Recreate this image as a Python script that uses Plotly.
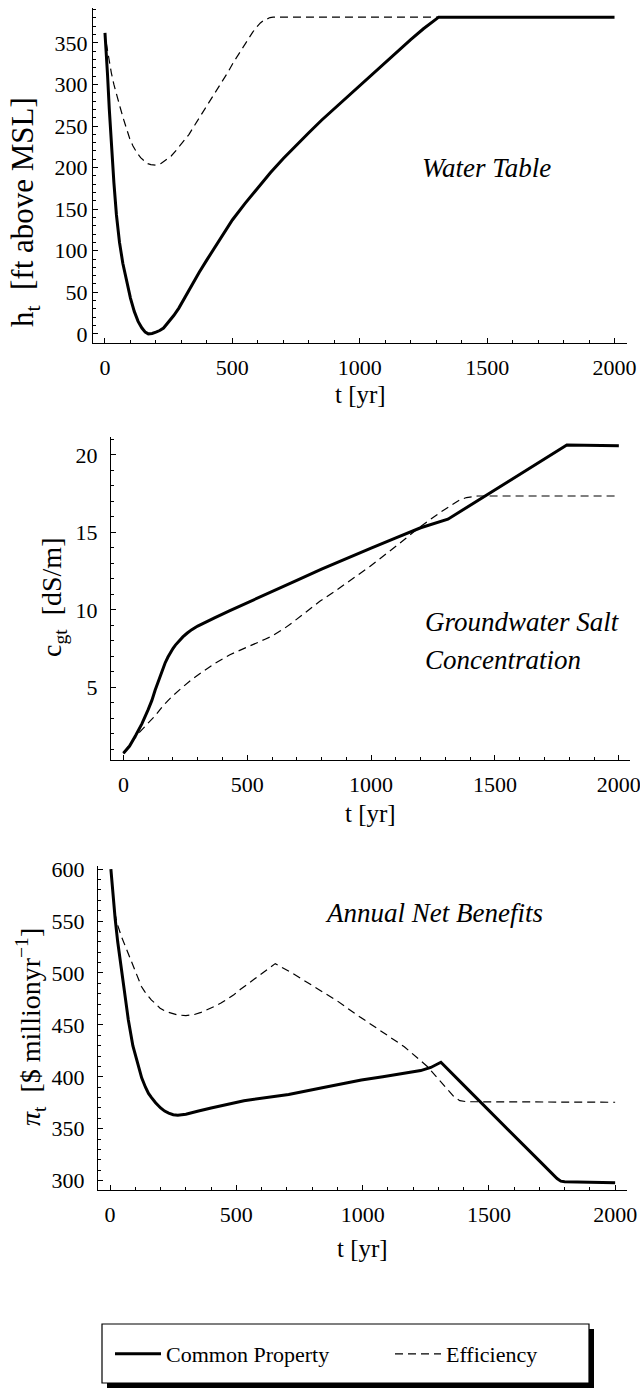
import plotly.graph_objects as go

W, H = 640, 1389
FONT = "Liberation Serif, Times New Roman, serif"

# ---------------- data ----------------
# Panel 1: water table h_t [ft above MSL]
t_h_cp = [0, 5, 10, 17, 25, 35, 45, 57, 70, 85, 100, 115, 130, 145, 158, 170, 185, 200, 215, 230, 250, 270, 290, 310,
          340, 370, 400, 450, 500, 550, 600, 650, 700, 750, 800, 850, 900, 950, 1000, 1050, 1100, 1150, 1200, 1250, 1310, 2000]
h_cp = [362, 340, 312, 270, 226, 182, 143, 110, 85, 62, 43, 27, 15, 7, 2, 0, 0.5, 2, 4, 7, 14, 22, 31, 42,
        58, 74, 89, 113, 137, 157, 176, 194, 211, 227, 242, 257, 271, 285, 299, 313, 327, 341, 354, 367, 381, 381]
t_h_ef = [5, 15, 25, 35, 47, 60, 72, 85, 97, 110, 125, 140, 152, 165, 180, 200, 220, 240, 260, 280, 305, 330, 352, 375,
          398, 420, 443, 465, 485, 505, 525, 545, 563, 580, 595, 610, 623, 635, 648, 660, 2000]
h_ef = [350, 330, 314, 300, 285, 272, 259, 246, 235, 226, 218, 212, 208, 205, 203.5, 203, 205, 209, 214, 221, 230, 240, 251, 262,
        273, 284, 295, 306, 316, 327, 337, 346, 355, 363, 369, 374, 377, 379, 380.5, 381, 381]

# Panel 2: groundwater salt concentration c_gt [dS/m]
t_c_cp = [0, 25, 50, 75, 100, 115, 128, 140, 150, 160, 168, 180, 190, 200, 210, 225, 240, 258, 276, 300, 330, 370,
          430, 491, 550, 600, 700, 800, 900, 1000, 1100, 1200, 1310, 1400, 1500, 1600, 1700, 1790, 2000]
c_cp = [0.73, 1.2, 1.9, 2.65, 3.55, 4.15, 4.8, 5.35, 5.8, 6.2, 6.55, 6.95, 7.25, 7.5, 7.72, 8.0, 8.25, 8.5, 8.72, 8.95, 9.2, 9.5,
        9.95, 10.4, 10.82, 11.17, 11.9, 12.62, 13.32, 13.98, 14.65, 15.3, 15.85, 16.75, 17.76, 18.77, 19.78, 20.65, 20.6]
t_c_ef = [0, 30, 60, 95, 128, 160, 196, 235, 276, 320, 370, 430, 491, 530, 572, 600, 626, 650, 680, 713, 750, 793, 850, 900,
          995, 1100, 1197, 1280, 1330, 1358, 1385, 1410, 1430, 2000]
c_ef = [0.73, 1.35, 2.0, 2.6, 3.15, 3.8, 4.4, 4.95, 5.5, 6.0, 6.55, 7.1, 7.55, 7.8, 8.1, 8.3, 8.55, 8.8, 9.15, 9.55, 10.0, 10.55, 11.15, 11.7,
        12.8, 14.1, 15.35, 16.3, 16.85, 17.1, 17.25, 17.33, 17.35, 17.35]

# Panel 3: annual net benefits pi_t [$ million/yr]
t_p_cp = [3, 10, 20, 30, 39, 55, 72, 90, 111, 125, 140, 152, 164, 180, 200, 216, 232, 250, 268, 285, 300, 350, 400, 530, 707, 850,
          995, 1080, 1165, 1230, 1270, 1310, 1400, 1500, 1600, 1700, 1770, 1785, 1800, 1900, 2000]
p_cp = [600, 578, 552, 530, 513, 482, 455, 430, 410, 399, 390, 384, 380, 375, 370, 367, 365, 363.5, 363, 363.2, 364, 367, 370, 377, 383, 390,
        397, 400, 403, 406, 409, 414, 392, 368, 344, 319, 302, 299.5, 299, 298.5, 298]
t_p_ef = [18, 30, 45, 58, 72, 86, 100, 112, 124, 137, 150, 163, 177, 198, 220, 245, 268, 300, 334, 360, 390, 415, 439, 465, 490, 515,
          543, 568, 590, 620, 654, 720, 800, 900, 969, 1060, 1165, 1256, 1310, 1340, 1361, 1385, 1413, 2000]
p_ef = [558, 546, 535, 527, 519, 510, 502, 494, 487, 482, 478, 474, 471, 466, 463, 461, 459.5, 459, 460, 462, 465, 468, 471, 475, 479, 484,
        489, 493.5, 498, 503, 509, 500, 488, 473, 461, 446, 429, 410, 395, 387, 381, 377, 376, 375.5]

x_ticks = [0, 500, 1000, 1500, 2000]
h_ticks = [0, 50, 100, 150, 200, 250, 300, 350]
c_ticks = [5, 10, 15, 20]
p_ticks = [300, 350, 400, 450, 500, 550, 600]

series_names = ["Common Property", "Efficiency"]

# ---------------- figure ----------------
def fx(p):
    return p / W

def fy(p):
    return 1 - p / H

SOLID = dict(color="black", width=3)
DASH = dict(color="black", width=1.2, dash="8px,5px")

fig = go.Figure()
panels = [
    (t_h_cp, h_cp, t_h_ef, h_ef, "x", "y"),
    (t_c_cp, c_cp, t_c_ef, c_ef, "x2", "y2"),
    (t_p_cp, p_cp, t_p_ef, p_ef, "x3", "y3"),
]
for i, (tc, vc, te, ve, xa, ya) in enumerate(panels):
    fig.add_trace(go.Scatter(x=tc, y=vc, mode="lines", line=SOLID, name=series_names[0],
                             legendgroup="cp", showlegend=(i == 0), legend="legend", xaxis=xa, yaxis=ya))
    fig.add_trace(go.Scatter(x=te, y=ve, mode="lines", line=DASH, name=series_names[1],
                             legendgroup="ef", showlegend=(i == 0), legend="legend2", xaxis=xa, yaxis=ya))


def ax(**kw):
    d = dict(showline=True, linecolor="black", linewidth=1.2, mirror=False, showgrid=False,
             zeroline=False, ticks="inside", ticklen=5, tickwidth=1, tickcolor="black",
             automargin=False, tickfont=dict(family=FONT, size=22, color="black"),
             fixedrange=True)
    d.update(kw)
    return d

xminor = dict(ticks="inside", ticklen=3, dtick=100, tickcolor="black", tickwidth=1)
xkw = dict(ticklabelstandoff=4, ticklabeloverflow="allow")

def leg(xpix):
    return dict(orientation="h", x=fx(xpix), y=fy(1354), xanchor="left", yanchor="middle",
                bgcolor="rgba(0,0,0,0)", borderwidth=0,
                font=dict(family=FONT, size=22, color="black"), itemwidth=46)

fig.update_layout(
    width=W, height=H,
    margin=dict(l=0, r=0, t=0, b=0),
    paper_bgcolor="white", plot_bgcolor="white",
    font=dict(family=FONT, color="black"),
    xaxis=ax(domain=[fx(93), fx(627)], range=[-47, 2049], tickvals=x_ticks, anchor="y", minor=xminor, **xkw),
    yaxis=ax(domain=[fy(343), fy(8)], range=[-11, 392], tickvals=h_ticks, anchor="x",
             minor=dict(ticks="inside", ticklen=3, dtick=10, tickcolor="black")),
    xaxis2=ax(domain=[fx(111), fx(630)], range=[-50, 2045], tickvals=x_ticks, anchor="y2", minor=xminor, **xkw),
    yaxis2=ax(domain=[fy(760), fy(437)], range=[0.3, 21.16], tickvals=c_ticks, anchor="x2", ticklabelstandoff=8,
              minor=dict(ticks="inside", ticklen=3, dtick=1, tickcolor="black")),
    xaxis3=ax(domain=[fx(98), fx(627)], range=[-48, 2047], tickvals=x_ticks, anchor="y3", minor=xminor, **xkw),
    yaxis3=ax(domain=[fy(1190), fy(866)], range=[291, 603], tickvals=p_ticks, anchor="x3", ticklabelstandoff=8,
              minor=dict(ticks="inside", ticklen=3, dtick=10, tickcolor="black")),
    showlegend=True,
    legend=leg(110),
    legend2=leg(390),
)

# legend frame with drop shadow
fig.add_shape(type="rect", xref="paper", yref="paper", x0=fx(107), x1=fx(594), y0=fy(1388), y1=fy(1329),
              fillcolor="black", line=dict(width=0), layer="above")
fig.add_shape(type="rect", xref="paper", yref="paper", x0=fx(102), x1=fx(589), y0=fy(1383), y1=fy(1324),
              fillcolor="white", line=dict(color="black", width=1.2), layer="above")

ann = []
def text(x, y, s, size=22, angle=0, italic=False, xanchor="center"):
    if italic:
        s = "<i>" + s + "</i>"
    ann.append(dict(x=fx(x), y=fy(y), xref="paper", yref="paper", text=s, showarrow=False,
                    textangle=angle, xanchor=xanchor, yanchor="middle",
                    font=dict(family=FONT, size=size, color="black")))

# axis titles
text(360, 395, "t [yr]", size=25)
text(370, 813, "t [yr]", size=25)
text(362, 1248, "t [yr]", size=25)
text(25, 212, "h<sub>t</sub>  [ft above MSL]", size=31, angle=-90)
text(54, 598, "c<sub>gt</sub>  [dS/m]", size=28, angle=-90)
text(30, 1027, "<i>π</i><sub>t</sub>  [$ millionyr<sup>−1</sup>]", size=28, angle=-90)

# panel labels
text(486, 168, "Water Table", size=27, italic=True)
text(423, 622, "Groundwater Salt", size=27, italic=True, xanchor="left")
text(423, 660, "Concentration", size=27, italic=True, xanchor="left")
text(434, 913, "Annual Net Benefits", size=27, italic=True)

fig.update_layout(annotations=ann)

fig.write_html("out.html")
